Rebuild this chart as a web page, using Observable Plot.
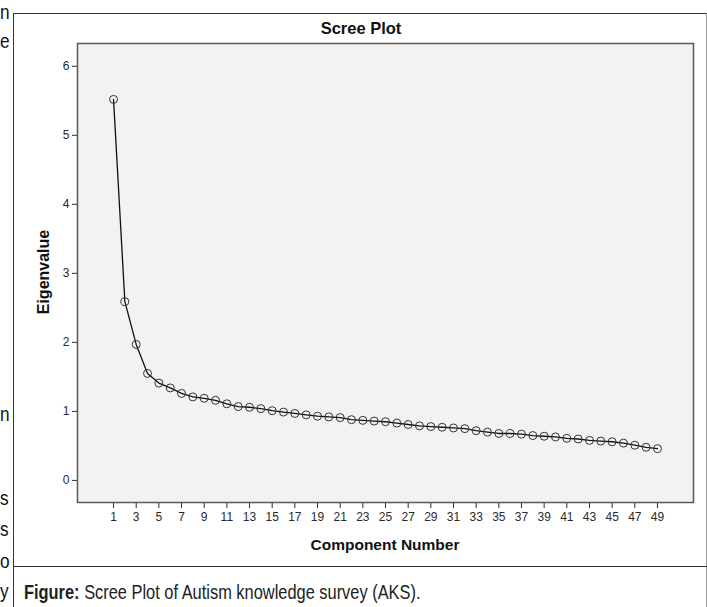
<!DOCTYPE html>
<html><head><meta charset="utf-8">
<script src="https://cdn.jsdelivr.net/npm/d3@7"></script>
<script src="https://cdn.jsdelivr.net/npm/@observablehq/plot@0.6"></script>
<style>
html,body{margin:0;padding:0;background:#fff;}
#wrap{position:relative;width:707px;height:607px;overflow:hidden;background:#fff;}
#chart{position:absolute;left:0;top:0;}
#chart svg, #chart svg text{font-family:"Liberation Sans", Arial, sans-serif !important;font-variant:normal !important;}
#box{position:absolute;left:13px;top:13px;width:694px;height:600px;border-left:1px solid #333;border-top:1px solid #333;border-right:1.5px solid #9a9a9a;box-sizing:border-box;pointer-events:none;}
#sep{position:absolute;left:13px;top:566px;width:694px;height:0;border-top:1.5px solid #333;}
.lbl{position:absolute;font-family:"Liberation Sans",Arial,sans-serif;font-weight:bold;color:#111;white-space:nowrap;transform:translate(-50%,-50%);}
.side{position:absolute;left:0px;font-family:"Liberation Sans",Arial,sans-serif;font-size:21px;color:#111;line-height:1;transform:translateY(-50%) scaleX(0.82);transform-origin:left center;}
#caption{position:absolute;left:24px;top:592px;transform:translateY(-50%) scaleX(0.82);transform-origin:left center;font-family:"Liberation Sans",Arial,sans-serif;font-size:20px;color:#222;white-space:nowrap;}
</style>
</head><body>
<div id="wrap">
  <div id="chart"></div>
  <div id="box"></div>
  <div id="sep"></div>
  <div class="lbl" id="title" style="left:361px;top:28px;font-size:16.5px;">Scree Plot</div>
  <div class="lbl" id="ylab" style="left:44px;top:272px;font-size:16px;transform:translate(-50%,-50%) rotate(-90deg);">Eigenvalue</div>
  <div class="lbl" id="xlab" style="left:385px;top:545px;font-size:15.5px;">Component Number</div>
  <div id="caption"><b>Figure:</b> Scree Plot of Autism knowledge survey (AKS).</div>
  <div class="side" style="top:11px;">n</div>
  <div class="side" style="top:40px;">e</div>
  <div class="side" style="top:413px;">n</div>
  <div class="side" style="top:497px;">s</div>
  <div class="side" style="top:528px;">s</div>
  <div class="side" style="top:560px;">o</div>
  <div class="side" style="top:590px;">y</div>
</div>
<script>
const eigenvalues = [5.52, 2.59, 1.97, 1.55, 1.41, 1.34, 1.26, 1.21, 1.19, 1.16,
  1.11, 1.07, 1.06, 1.04, 1.01, 0.99, 0.97, 0.95, 0.93, 0.92,
  0.91, 0.88, 0.87, 0.86, 0.85, 0.83, 0.81, 0.79, 0.78, 0.77,
  0.76, 0.75, 0.72, 0.70, 0.68, 0.68, 0.67, 0.65, 0.64, 0.63,
  0.61, 0.60, 0.58, 0.57, 0.56, 0.54, 0.51, 0.48, 0.46];
const components = eigenvalues.map((_, i) => i + 1);
const xTicks = [1,3,5,7,9,11,13,15,17,19,21,23,25,27,29,31,33,35,37,39,41,43,45,47,49];
const yTicks = [0,1,2,3,4,5,6];
const data = components.map((c, i) => ({c, v: eigenvalues[i]}));

const chart = Plot.plot({
  width: 707, height: 567,
  marginLeft: 77, marginRight: 14, marginTop: 43, marginBottom: 65,
  style: {background: "none", fontFamily: "Liberation Sans", fontSize: "12px", color: "#2a2a2a"},
  x: {domain: [-2.18, 52.18], ticks: xTicks, tickSize: 6, tickPadding: 4, label: null, tickFormat: d => String(d)},
  y: {domain: [-0.32, 6.33], ticks: yTicks, tickSize: 5, tickPadding: 3, label: null, tickFormat: d => String(d)},
  marks: [
    Plot.frame({fill: "#f2f2f0"}),
    Plot.frame({stroke: "#5a5a5a", strokeWidth: 1.5}),
    Plot.line(data, {x: "c", y: "v", stroke: "#111", strokeWidth: 1.3}),
    Plot.dot(data, {x: "c", y: "v", r: 4, stroke: "#333", strokeWidth: 1, fill: "none"})
  ]
});
document.getElementById("chart").appendChild(chart);
</script>
</body></html>
